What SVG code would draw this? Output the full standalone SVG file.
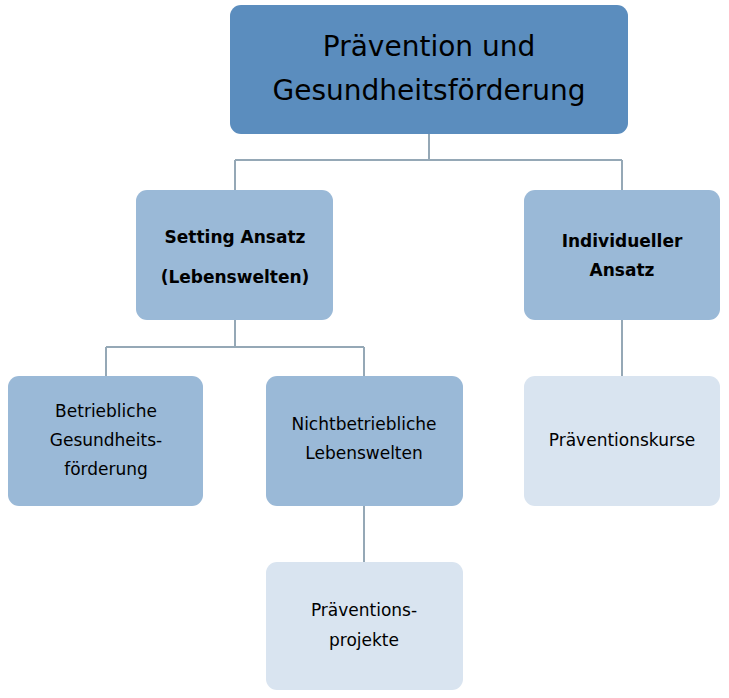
<svg xmlns="http://www.w3.org/2000/svg" width="729" height="698" viewBox="0 0 729 698">
<style>
.c{fill:none;stroke:#95a8b6;stroke-width:2}
.t{font-family:"DejaVu Sans",sans-serif;font-size:17px;fill:#000;text-anchor:middle}
.b{font-weight:bold}
.m{fill:#9ab9d7}
.l{fill:#d9e4f0}
</style>
<rect width="729" height="698" fill="#fff"/>
<g id="connectors">
<path class="c" d="M429 134V160M235 160H622M235 160V190M622 160V190"/>
<path class="c" d="M235 320V347M106 347H364M106 347V376M364 347V376"/>
<path class="c" d="M364 506V562M622 320V376"/>
</g>
<g id="top"><rect x="230" y="5" width="398" height="129" rx="11" fill="#5b8dbe"/>
<text class="t" x="429" y="56" style="font-size:28px">Prävention und</text>
<text class="t" x="429" y="100" style="font-size:28px">Gesundheitsförderung</text></g>
<g id="setting"><rect class="m" x="136" y="190" width="197" height="130" rx="11"/>
<text class="t b" x="235" y="243">Setting Ansatz</text><text class="t b" x="235" y="283">(Lebenswelten)</text></g>
<g id="individuell"><rect class="m" x="524" y="190" width="196" height="130" rx="11"/>
<text class="t b" x="622" y="247">Individueller</text><text class="t b" x="622" y="276">Ansatz</text></g>
<g id="betrieblich"><rect class="m" x="8" y="376" width="195" height="130" rx="11"/>
<text class="t" x="106" y="417">Betriebliche</text><text class="t" x="106" y="446">Gesundheits-</text><text class="t" x="106" y="475">förderung</text></g>
<g id="nichtbetrieblich"><rect class="m" x="266" y="376" width="197" height="130" rx="11"/>
<text class="t" x="364" y="430">Nichtbetriebliche</text><text class="t" x="364" y="459">Lebenswelten</text></g>
<g id="projekte"><rect class="l" x="266" y="562" width="197" height="128" rx="11"/>
<text class="t" x="364" y="616">Präventions-</text><text class="t" x="364" y="646">projekte</text></g>
<g id="kurse"><rect class="l" x="524" y="376" width="196" height="130" rx="11"/>
<text class="t" x="622" y="446">Präventionskurse</text></g>
</svg>
